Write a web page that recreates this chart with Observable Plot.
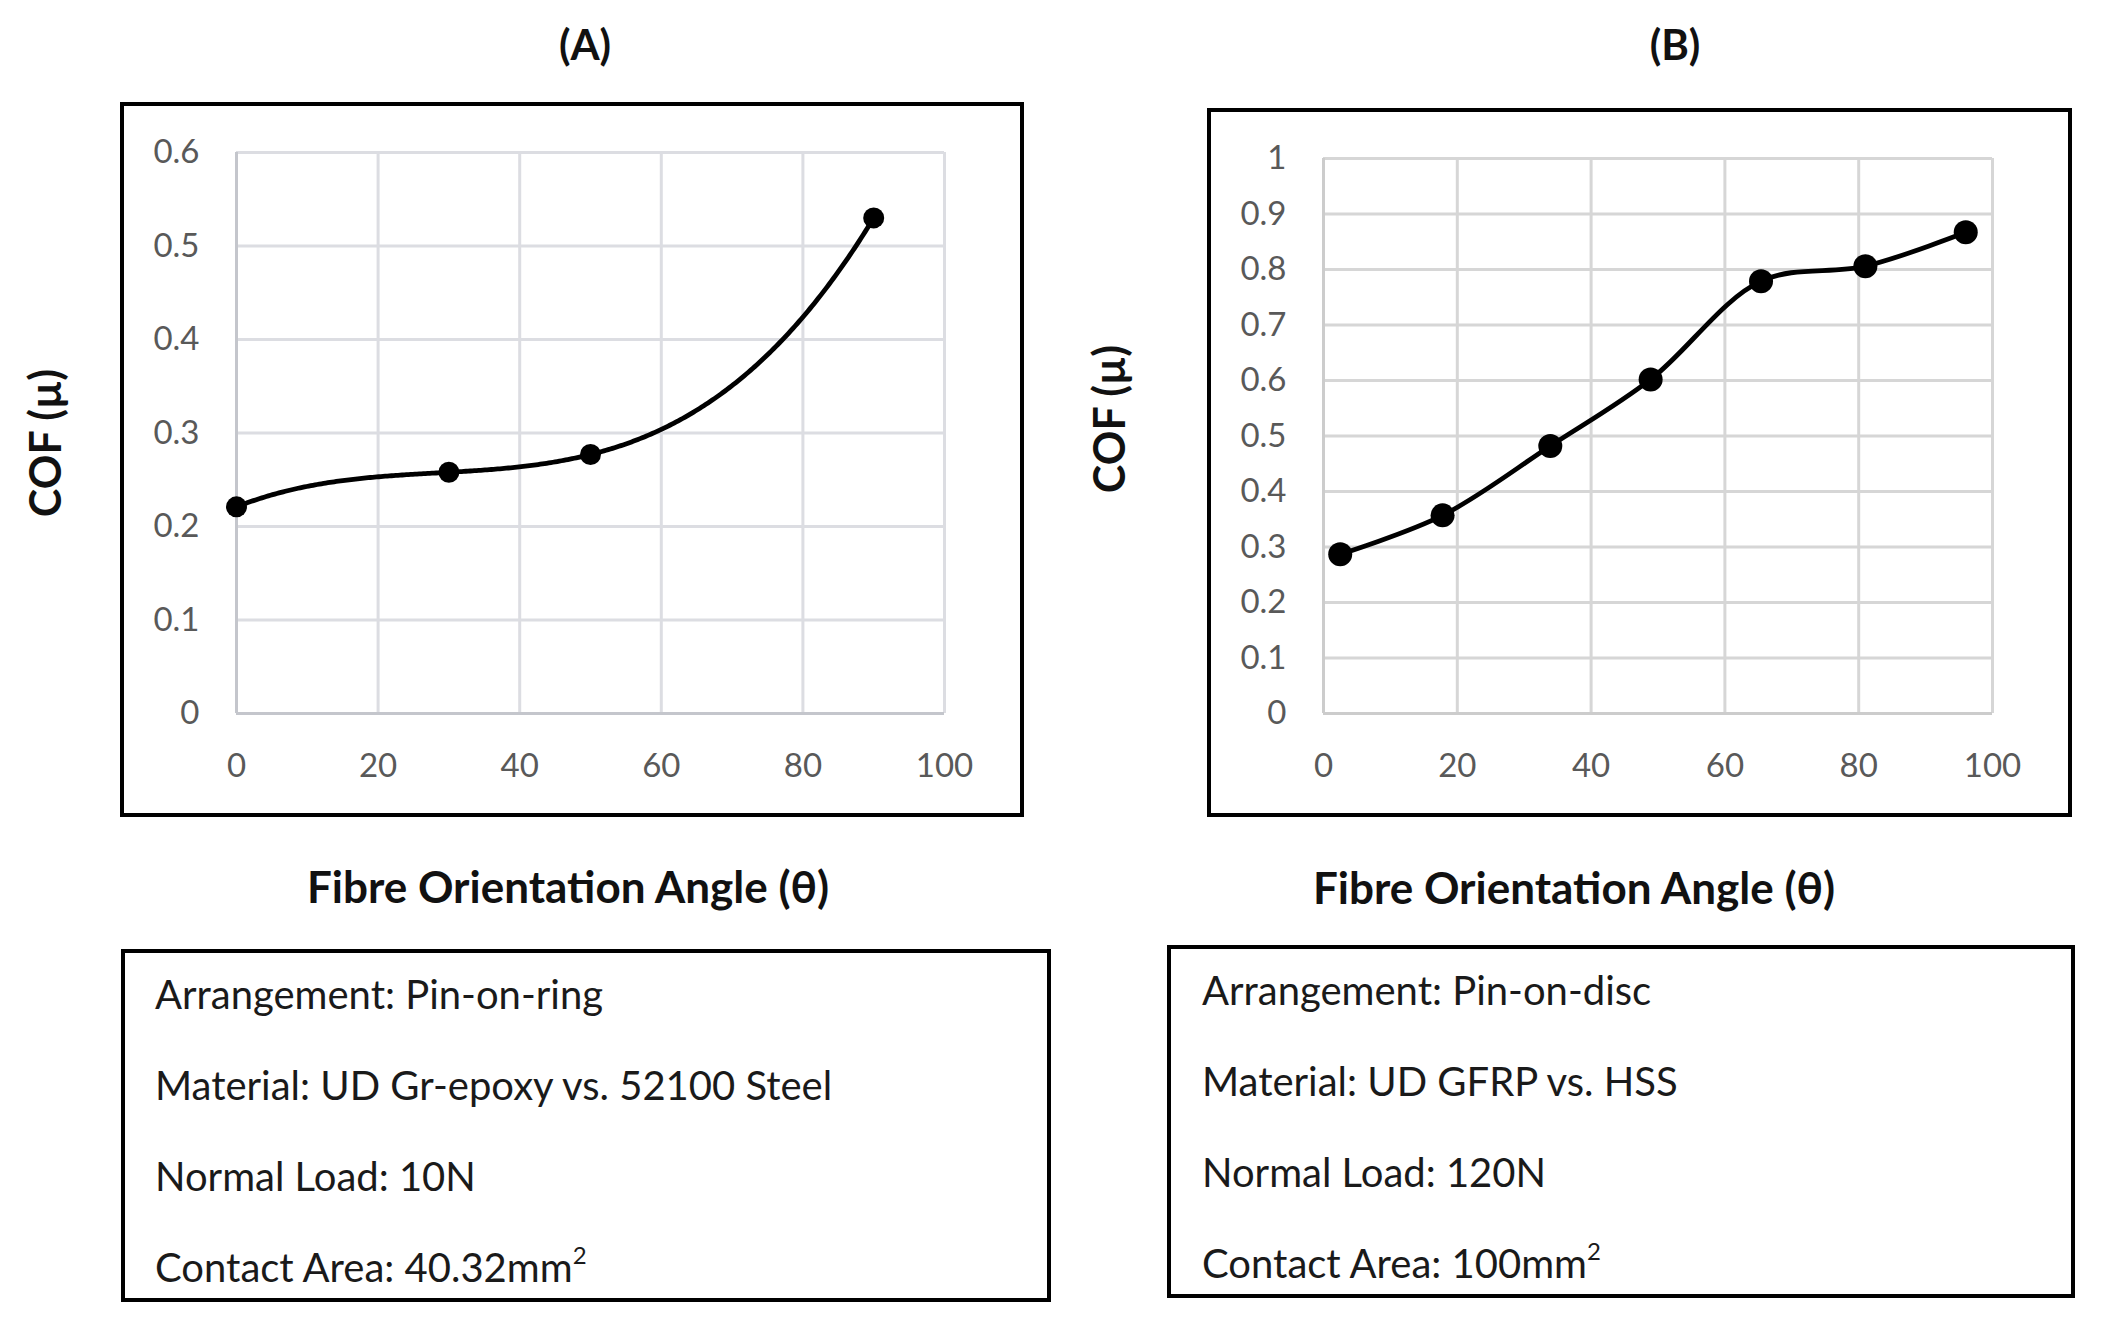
<!DOCTYPE html>
<html><head><meta charset="utf-8">
<script src="https://cdn.jsdelivr.net/npm/d3@7"></script>
<script src="https://cdn.jsdelivr.net/npm/@observablehq/plot@0.6"></script>
<style>
body{margin:0;background:#fff;width:2106px;height:1332px;position:relative;overflow:hidden;font-family:Lato,"Open Sans",sans-serif;color:#111}
.abs{position:absolute;white-space:nowrap}
.title{font-weight:bold;font-size:42px;transform:translate(-50%,-50%)}
.xlab{font-weight:bold;font-size:44px;transform:translate(-50%,-50%)}
.ylab{font-weight:bold;font-size:43px;transform:translate(-50%,-50%) rotate(-90deg)}
.box{border:4px solid #000;box-sizing:border-box;pointer-events:none}
.info{font-size:40px;line-height:48px;color:#1a1a1a}
.info sup{font-size:0.6em;vertical-align:0.75em;line-height:0}
svg{display:block}
</style>
</head><body>
<script>
// Data
const anglesA = [0, 30, 50, 90];
const cofA = [0.221, 0.258, 0.277, 0.53];
const anglesB = [2.5, 17.8, 33.9, 48.9, 65.4, 81, 96];
const cofB = [0.287, 0.357, 0.482, 0.602, 0.779, 0.806, 0.867];
const xTicks = [0, 20, 40, 60, 80, 100];
const yTicksA = [0, 0.1, 0.2, 0.3, 0.4, 0.5, 0.6];
const yTicksB = [0, 0.1, 0.2, 0.3, 0.4, 0.5, 0.6, 0.7, 0.8, 0.9, 1];
const titles = ["(A)", "(B)"];
const xLabel = "Fibre Orientation Angle (θ)";
const yLabel = "COF (µ)";
const infoA = ["Arrangement: Pin-on-ring", "Material: UD Gr-epoxy vs. 52100 Steel", "Normal Load: 10N", "Contact Area: 40.32mm<sup>2</sup>"];
const infoB = ["Arrangement: Pin-on-disc", "Material: UD GFRP vs. HSS", "Normal Load: 120N", "Contact Area: 100mm<sup>2</sup>"];

// Curve drawing a single interpolating polynomial through the points (like a cubic fit)
function polynomialCurve(context){
  let pts;
  return {
    areaStart(){}, areaEnd(){},
    lineStart(){ pts = []; },
    point(x, y){ pts.push([+x, +y]); },
    lineEnd(){
      const n = pts.length;
      if (!n) return;
      const x0 = pts[0][0], x1 = pts[n-1][0], N = 300;
      for (let k = 0; k <= N; k++){
        const x = x0 + (x1 - x0) * k / N;
        let y = 0;
        for (let i = 0; i < n; i++){
          let L = 1;
          for (let j = 0; j < n; j++) if (j !== i) L *= (x - pts[j][0]) / (pts[i][0] - pts[j][0]);
          y += L * pts[i][1];
        }
        if (k === 0) context.moveTo(x, y); else context.lineTo(x, y);
      }
    }
  };
}

function el(cls, html, style){
  const d = document.createElement("div");
  d.className = "abs " + cls;
  d.innerHTML = html;
  Object.assign(d.style, style);
  document.body.appendChild(d);
  return d;
}

function chart(cfg){
  const data = cfg.xs.map((x,i)=>({x, y: cfg.ys[i]}));
  const [bx, by, bw, bh] = cfg.box;
  const p = Plot.plot({
    width: bw, height: bh,
    marginLeft: cfg.m[0], marginRight: cfg.m[1], marginTop: cfg.m[2], marginBottom: cfg.m[3],
    style: {fontFamily: "Lato, 'Open Sans', sans-serif", fontSize: "33px", color: "#595959", background: "#fff"},
    x: {domain: [0, 100]},
    y: {domain: cfg.ydom},
    marks: [
      Plot.gridX(xTicks, {stroke: cfg.grid, strokeOpacity: 1, strokeWidth: 3}),
      Plot.gridY(cfg.yTicks, {stroke: cfg.grid, strokeOpacity: 1, strokeWidth: 3}),
      Plot.ruleX([0], {stroke: cfg.axis, strokeWidth: 3}),
      Plot.ruleY([0], {stroke: cfg.axis, strokeWidth: 3}),
      Plot.axisX(xTicks, {tickSize: 0, tickPadding: 40, fontSize: 33, label: null, tickFormat: d => String(d)}),
      Plot.axisY(cfg.yTicks, {tickSize: 0, tickPadding: 37, fontSize: 33, label: null, tickFormat: d => String(d)}),
      Plot.line(data, {x: "x", y: "y", stroke: "#000", strokeWidth: 4.8, curve: cfg.curve}),
      Plot.dot(data, {x: "x", y: "y", r: cfg.r, fill: "#000", stroke: "none"})
    ]
  });
  const holder = el("", "", {left: bx+"px", top: by+"px"});
  holder.appendChild(p);
  el("box", "", {left: bx+"px", top: by+"px", width: bw+"px", height: bh+"px"});
  el("title", cfg.title, {left: cfg.titlePos[0]+"px", top: cfg.titlePos[1]+"px"});
  el("xlab", xLabel, {left: cfg.xlabPos[0]+"px", top: cfg.xlabPos[1]+"px"});
  el("ylab", yLabel, {left: cfg.ylabPos[0]+"px", top: cfg.ylabPos[1]+"px"});
  const [ix, iy, iw, ih] = cfg.info;
  el("box", "", {left: ix+"px", top: iy+"px", width: iw+"px", height: ih+"px"});
  cfg.lines.forEach((t,i)=>{
    el("info", t, {left: cfg.textX+"px", top: (cfg.baselines[i] - 39.5)+"px"});
  });
}

chart({
  xs: anglesA, ys: cofA, ydom: [0, 0.6], yTicks: yTicksA, curve: polynomialCurve, r: 10.5,
  grid: "#dcdde2", axis: "#c4c6cc",
  box: [120, 102, 904, 715], m: [116, 80, 50, 104],
  title: titles[0], titlePos: [585, 44], xlabPos: [568, 886], ylabPos: [44, 443],
  info: [121, 949, 930, 353], textX: 155, baselines: [1009, 1100, 1191, 1282], lines: infoA
});
chart({
  xs: anglesB, ys: cofB, ydom: [0, 1], yTicks: yTicksB, curve: "catmull-rom", r: 12,
  grid: "#d6d6d6", axis: "#cccccc",
  box: [1207, 108, 865, 709], m: [116, 80, 50, 104],
  title: titles[1], titlePos: [1675, 44], xlabPos: [1574, 887], ylabPos: [1108, 419],
  info: [1167, 945, 908, 353], textX: 1202, baselines: [1005, 1096, 1187, 1278], lines: infoB
});
</script>
</body></html>
